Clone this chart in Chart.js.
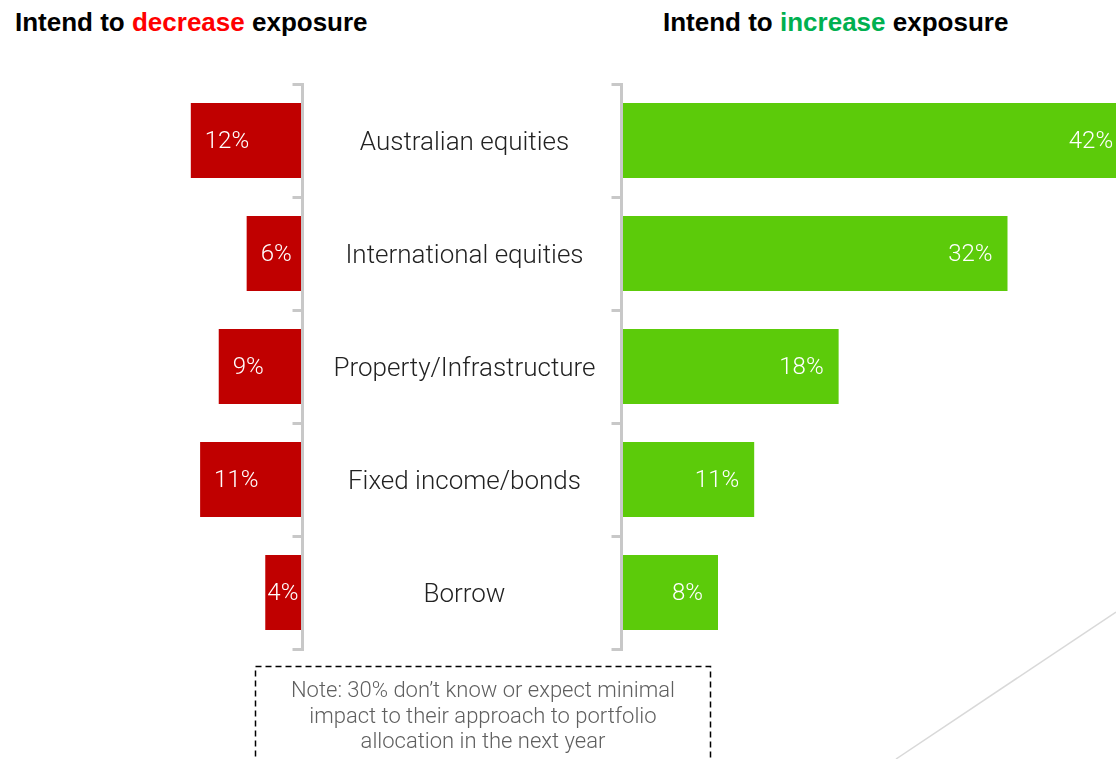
<!DOCTYPE html>
<html lang="en">
<head>
<meta charset="UTF-8" />
<title>Intend to decrease / increase exposure</title>
<script src="https://cdn.jsdelivr.net/npm/chart.js"></script>
<style>
  html, body { margin: 0; padding: 0; background: #fff; }
  body { width: 1116px; height: 759px; overflow: hidden; position: relative; }
  .titulo {
    position: absolute; top: 9px; line-height: 26px;
    font-family: "Liberation Sans", Arial, sans-serif; font-weight: bold; font-size: 26px;
    color: #000; white-space: nowrap;
  }
  .vermelho { color: #ff0000; }
  .verde { color: #00b050; }
  #box_esq { position: absolute; left: 0; top: 0; width: 304px; height: 759px; }
  #box_dir { position: absolute; left: 300px; top: 0; width: 880px; height: 759px; }
  .nota {
    position: absolute; left: 255px; top: 677px; width: 456px;
    font-family: Roboto, "Noto Sans", sans-serif; font-weight: 300; font-size: 22px;
    line-height: 25.5px; color: #5f5f5f; text-align: center;
  }
  svg { position: absolute; left: 0; top: 0; }
</style>
</head>
<body>
  <div class="titulo" style="left:15px">Intend to <span class="vermelho">decrease</span> exposure</div>
  <div class="titulo" style="left:663px">Intend to <span class="verde">increase</span> exposure</div>

  <div id="box_esq"><canvas id="grafico_diminuir"></canvas></div>
  <div id="box_dir"><canvas id="grafico_aumentar"></canvas></div>

  <svg width="1116" height="759">
    <rect x="255.5" y="666.5" width="455" height="120" fill="none" stroke="#000" stroke-width="1.5" stroke-dasharray="6,4" />
    <line x1="896" y1="759" x2="1116" y2="612" stroke="#d9d9d9" stroke-width="1.5" />
  </svg>
  <div class="nota">Note: 30% don’t know or expect minimal<br>impact to their approach to portfolio<br>allocation in the next year</div>

<script>
  // dados
  const categorias = ["Australian equities", "International equities", "Property/Infrastructure", "Fixed income/bonds", "Borrow"];
  const diminuir = [12, 6, 9, 11, 4];
  const aumentar = [42, 32, 18, 11, 8];

  const corVermelha = "#c00000";
  const corVerde = "#5ccb0a";
  const corEixo = "#c8c8c8";

  // rotulos brancos dentro das barras
  const rotulosBarras = {
    id: "rotulosBarras",
    afterDatasetsDraw(chart) {
      const ctx = chart.ctx;
      const meta = chart.getDatasetMeta(0);
      const lado = chart.options.plugins.rotulosBarras.lado;
      ctx.save();
      ctx.fillStyle = "#ffffff";
      ctx.font = "300 24px Roboto";
      ctx.textBaseline = "middle";
      meta.data.forEach(function (barra, i) {
        const texto = chart.data.datasets[0].data[i] + "%";
        const larg = ctx.measureText(texto).width;
        if (lado == "esq") {
          const largBarra = barra.base - barra.x;
          if (larg + 17 > largBarra) {
            ctx.textAlign = "center";
            ctx.fillText(texto, (barra.x + barra.base) / 2 - 1, barra.y + 1);
          } else {
            ctx.textAlign = "left";
            ctx.fillText(texto, barra.x + 14, barra.y + 1);
          }
        } else {
          ctx.textAlign = "right";
          ctx.fillText(texto, barra.x - 15, barra.y + 1);
        }
      });
      ctx.restore();
    }
  };

  const eixoY = {
    type: "category",
    offset: true,
    border: { display: true, color: corEixo, width: 3, z: 1 },
    grid: { display: true, drawOnChartArea: false, drawTicks: true, color: corEixo, lineWidth: 3, z: 1 }
  };

  // Grafico diminuir (esquerda)
  const chartDiminuir = new Chart(document.getElementById("grafico_diminuir"), {
    type: "bar",
    data: {
      labels: categorias,
      datasets: [{ data: diminuir, backgroundColor: corVermelha, categoryPercentage: 1, barPercentage: 0.664 }]
    },
    plugins: [rotulosBarras],
    options: {
      indexAxis: "y",
      responsive: true,
      maintainAspectRatio: false,
      animation: false,
      layout: { padding: { top: 84, bottom: 110, left: 0, right: 0 } },
      plugins: { legend: { display: false }, tooltip: { enabled: false }, rotulosBarras: { lado: "esq" } },
      scales: {
        x: { display: false, reverse: true, min: 0, max: 32.5 },
        y: Object.assign({}, eixoY, {
          position: "right",
          ticks: { display: false },
          grid: Object.assign({}, eixoY.grid, { tickLength: -10 }),
          afterFit: function (escala) { escala.width = 1.5; }
        })
      }
    }
  });

  // Grafico aumentar (direita)
  const chartAumentar = new Chart(document.getElementById("grafico_aumentar"), {
    type: "bar",
    data: {
      labels: categorias,
      datasets: [{ data: aumentar, backgroundColor: corVerde, categoryPercentage: 1, barPercentage: 0.664 }]
    },
    plugins: [rotulosBarras],
    options: {
      indexAxis: "y",
      responsive: true,
      maintainAspectRatio: false,
      animation: false,
      layout: { padding: { top: 84, bottom: 110, left: 0, right: 0 } },
      plugins: { legend: { display: false }, tooltip: { enabled: false }, rotulosBarras: { lado: "dir" } },
      scales: {
        x: { display: false, min: 0, max: 46.3 },
        y: Object.assign({}, eixoY, {
          position: "left",
          grid: Object.assign({}, eixoY.grid, { tickLength: 10 }),
          ticks: {
            crossAlign: "center",
            padding: 16,
            labelOffset: 3,
            color: "#222222",
            font: { family: "Roboto", size: 26, weight: "300" }
          },
          afterFit: function (escala) { escala.width = 321.5; }
        })
      }
    }
  });
</script>
</body>
</html>
